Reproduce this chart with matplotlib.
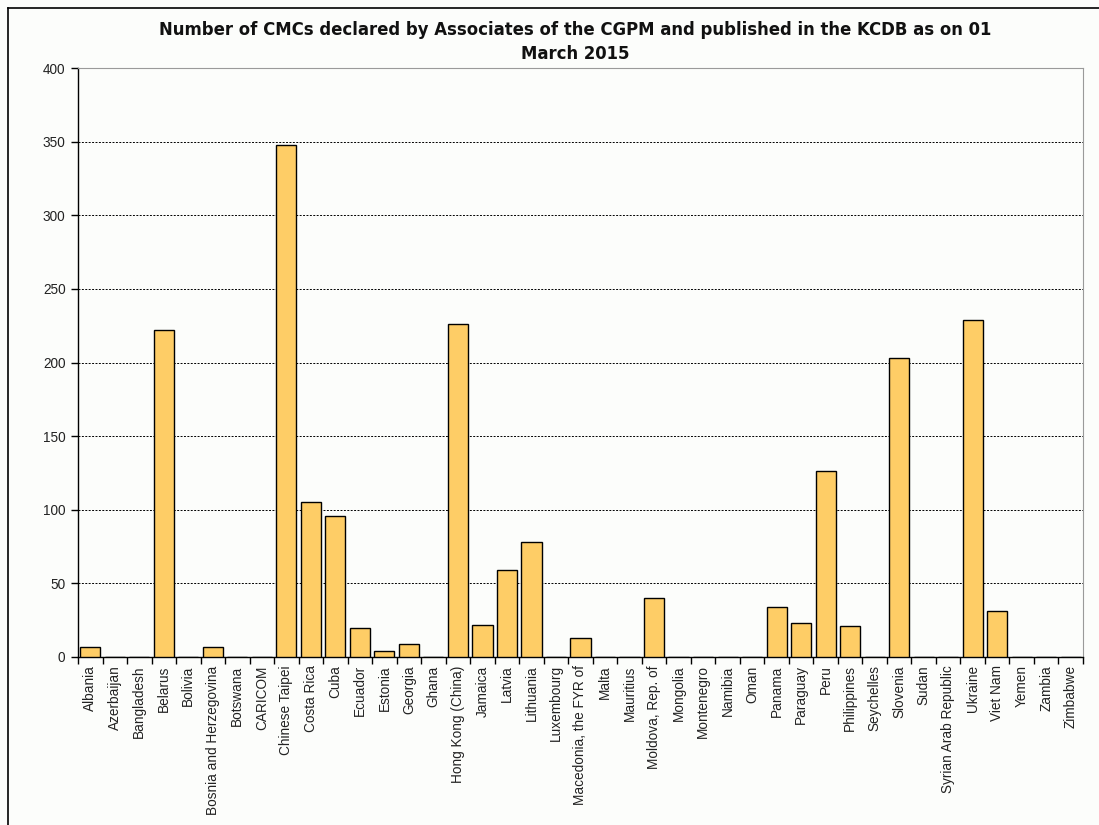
import matplotlib
matplotlib.use("Agg")
import matplotlib.pyplot as plt
from matplotlib.lines import Line2D

categories = ["Albania", "Azerbaijan", "Bangladesh", "Belarus", "Bolivia",
              "Bosnia and Herzegovina", "Botswana", "CARICOM", "Chinese Taipei",
              "Costa Rica", "Cuba", "Ecuador", "Estonia", "Georgia", "Ghana",
              "Hong Kong (China)", "Jamaica", "Latvia", "Lithuania", "Luxembourg",
              "Macedonia, the FYR of", "Malta", "Mauritius", "Moldova, Rep. of",
              "Mongolia", "Montenegro", "Namibia", "Oman", "Panama", "Paraguay",
              "Peru", "Philippines", "Seychelles", "Slovenia", "Sudan",
              "Syrian Arab Republic", "Ukraine", "Viet Nam", "Yemen", "Zambia",
              "Zimbabwe"]
values = [7, 0, 0, 222, 0, 7, 0, 0, 348, 105, 96, 20, 4, 9, 0, 226, 22, 59, 78, 0,
          13, 0, 0, 40, 0, 0, 0, 0, 34, 23, 126, 21, 0, 203, 0, 0, 229, 31, 0, 0, 0]
yticks = [0, 50, 100, 150, 200, 250, 300, 350, 400]
title = "Number of CMCs declared by Associates of the CGPM and published in the KCDB as on 01\nMarch 2015"

W, H = 1099, 825
fig = plt.figure(figsize=(W / 100, H / 100), dpi=100)
fig.patch.set_facecolor("#FCFDFB")

ax = fig.add_axes([78 / W, 1 - 657 / H, (1083 - 78) / W, (657 - 68) / H])
ax.set_facecolor("#FCFDFB")
n = len(categories)
x = list(range(n))
ax.bar(x, values, width=0.82, color="#FECD66", edgecolor="black", linewidth=1.0, zorder=3)
ax.set_xlim(-0.5, n - 0.5)
ax.set_ylim(0, 400)
ax.set_yticks(yticks)
ax.set_yticklabels([str(v) for v in yticks], fontsize=9.8, family="Liberation Sans",
                   color="#222222")
ax.set_xticks(x)
ax.set_xticklabels(categories, rotation=90, fontsize=9.8, family="Liberation Sans",
                   color="#222222")
ax.tick_params(axis="x", length=0, pad=6)
ax.set_xticks([i - 0.5 for i in range(n + 1)], minor=True)
ax.tick_params(axis="x", which="minor", length=5, width=1, direction="out")
ax.tick_params(axis="y", length=5, width=1, direction="out", pad=4)
for v in yticks[1:-1]:
    ax.axhline(v, color="black", linestyle=(0, (2, 1.5)), linewidth=0.7, zorder=1)
ax.spines["top"].set_color("#9A9A9A")
ax.spines["right"].set_color("#9A9A9A")
ax.spines["left"].set_color("black")
ax.spines["bottom"].set_color("black")
ax.spines["left"].set_linewidth(1.0)
ax.spines["bottom"].set_linewidth(1.0)

fig.text(575 / W, 1 - 42 / H, title, ha="center", va="center", fontsize=11.9,
         fontweight="bold", family="DejaVu Sans", linespacing=1.4, color="#111111")

fig.add_artist(Line2D([8 / W, 8 / W], [0, 1 - 8 / H], color="black", linewidth=1.2,
                      transform=fig.transFigure))
fig.add_artist(Line2D([8 / W, 1], [1 - 8 / H, 1 - 8 / H], color="black", linewidth=1.2,
                      transform=fig.transFigure))

fig.savefig("out.png", dpi=100, facecolor=fig.get_facecolor())
